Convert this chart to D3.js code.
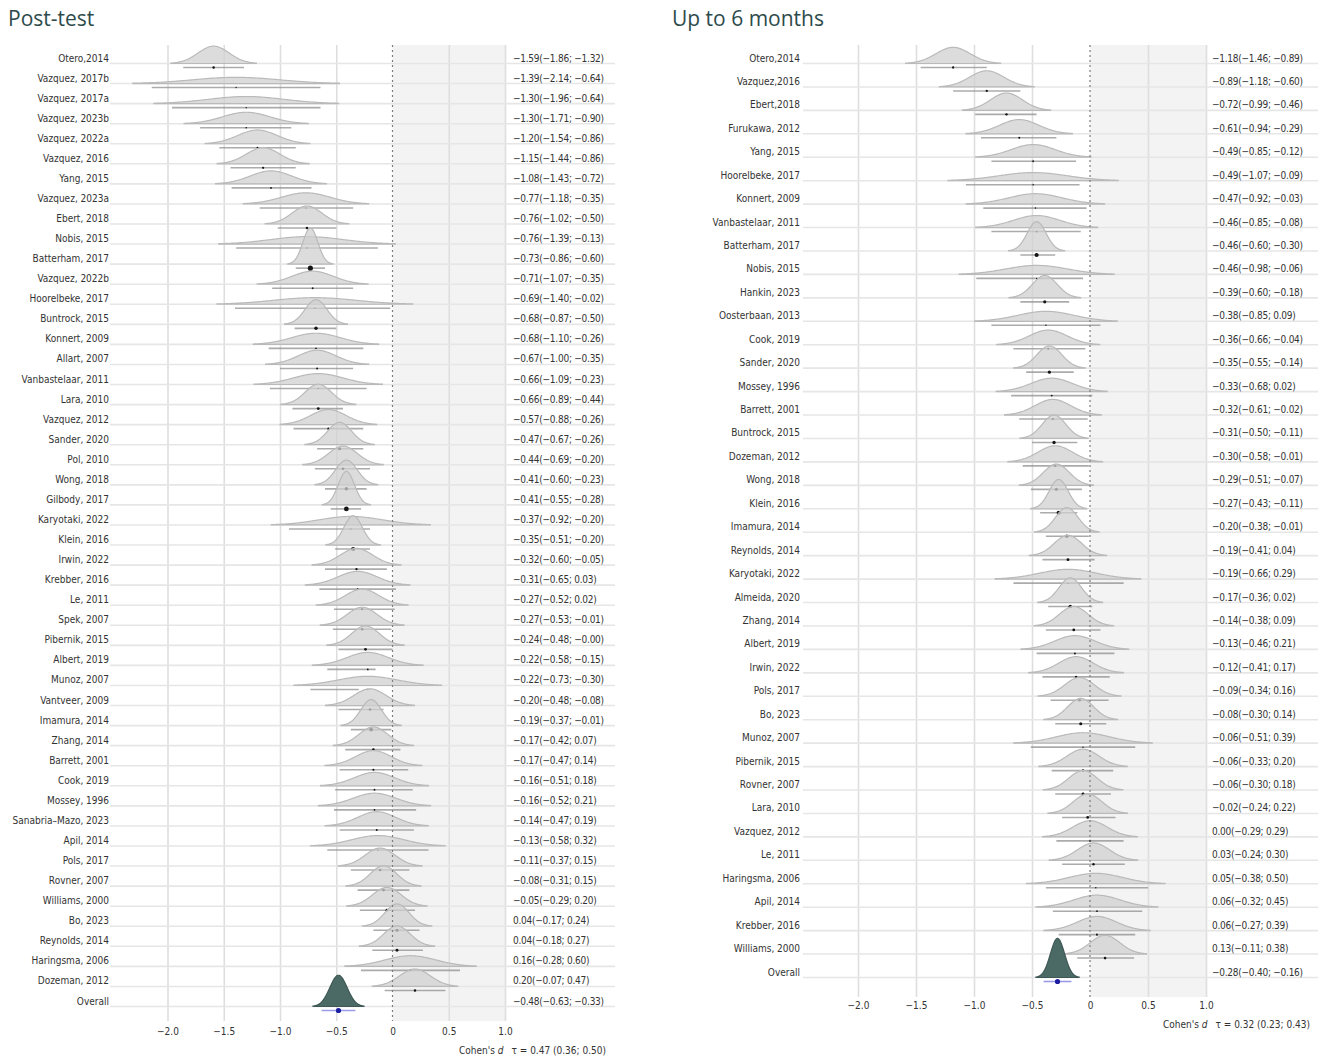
<!DOCTYPE html>
<html>
<head>
<meta charset="utf-8">
<script src="https://cdn.jsdelivr.net/npm/d3@7"></script>
<style>
  body { margin: 0; background: #fff; }
  svg text { font-family: "Liberation Sans Narrow", "DejaVu Sans Condensed", "Roboto Condensed", sans-serif; font-stretch: condensed; fill: #333; }
  svg text.title { font-family: "Open Sans", sans-serif; font-stretch: normal; fill: #2d4b4b; }
</style>
</head>
<body>
<svg id="chart" width="1321" height="1059"></svg>
<script>
// ---- Post-test effect sizes (Cohen's d with 95% CI) ----
const postStudies = [
  "Otero,2014", "Vazquez, 2017b", "Vazquez, 2017a", "Vazquez, 2023b", "Vazquez, 2022a",
  "Vazquez, 2016", "Yang, 2015", "Vazquez, 2023a", "Ebert, 2018", "Nobis, 2015",
  "Batterham, 2017", "Vazquez, 2022b", "Hoorelbeke, 2017", "Buntrock, 2015", "Konnert, 2009",
  "Allart, 2007", "Vanbastelaar, 2011", "Lara, 2010", "Vazquez, 2012", "Sander, 2020",
  "Pol, 2010", "Wong, 2018", "Gilbody, 2017", "Karyotaki, 2022", "Klein, 2016",
  "Irwin, 2022", "Krebber, 2016", "Le, 2011", "Spek, 2007", "Pibernik, 2015",
  "Albert, 2019", "Munoz, 2007", "Vantveer, 2009", "Imamura, 2014", "Zhang, 2014",
  "Barrett, 2001", "Cook, 2019", "Mossey, 1996", "Sanabria–Mazo, 2023", "Apil, 2014",
  "Pols, 2017", "Rovner, 2007", "Williams, 2000", "Bo, 2023", "Reynolds, 2014",
  "Haringsma, 2006", "Dozeman, 2012"
];
const postEst = [
  -1.59, -1.39, -1.30, -1.30, -1.20, -1.15, -1.08, -0.77, -0.76, -0.76,
  -0.73, -0.71, -0.69, -0.68, -0.68, -0.67, -0.66, -0.66, -0.57, -0.47,
  -0.44, -0.41, -0.41, -0.37, -0.35, -0.32, -0.31, -0.27, -0.27, -0.24,
  -0.22, -0.22, -0.20, -0.19, -0.17, -0.17, -0.16, -0.16, -0.14, -0.13,
  -0.11, -0.08, -0.05, 0.04, 0.04, 0.16, 0.20
];
const postLower = [
  -1.86, -2.14, -1.96, -1.71, -1.54, -1.44, -1.43, -1.18, -1.02, -1.39,
  -0.86, -1.07, -1.40, -0.87, -1.10, -1.00, -1.09, -0.89, -0.88, -0.67,
  -0.69, -0.60, -0.55, -0.92, -0.51, -0.60, -0.65, -0.52, -0.53, -0.48,
  -0.58, -0.73, -0.48, -0.37, -0.42, -0.47, -0.51, -0.52, -0.47, -0.58,
  -0.37, -0.31, -0.29, -0.17, -0.18, -0.28, -0.07
];
const postUpper = [
  -1.32, -0.64, -0.64, -0.90, -0.86, -0.86, -0.72, -0.35, -0.50, -0.13,
  -0.60, -0.35, -0.02, -0.50, -0.26, -0.35, -0.23, -0.44, -0.26, -0.26,
  -0.20, -0.23, -0.28, -0.20, -0.20, -0.05, 0.03, 0.02, -0.01, -0.00,
  -0.15, -0.30, -0.08, -0.01, 0.07, 0.14, 0.18, 0.21, 0.19, 0.32,
  0.15, 0.15, 0.20, 0.24, 0.27, 0.60, 0.47
];
const postOverall = [-0.48, -0.63, -0.33];
const postTau = "τ = 0.47 (0.36; 0.50)";

// ---- Follow-up (up to 6 months) effect sizes ----
const fuStudies = [
  "Otero,2014", "Vazquez,2016", "Ebert,2018", "Furukawa, 2012", "Yang, 2015",
  "Hoorelbeke, 2017", "Konnert, 2009", "Vanbastelaar, 2011", "Batterham, 2017", "Nobis, 2015",
  "Hankin, 2023", "Oosterbaan, 2013", "Cook, 2019", "Sander, 2020", "Mossey, 1996",
  "Barrett, 2001", "Buntrock, 2015", "Dozeman, 2012", "Wong, 2018", "Klein, 2016",
  "Imamura, 2014", "Reynolds, 2014", "Karyotaki, 2022", "Almeida, 2020", "Zhang, 2014",
  "Albert, 2019", "Irwin, 2022", "Pols, 2017", "Bo, 2023", "Munoz, 2007",
  "Pibernik, 2015", "Rovner, 2007", "Lara, 2010", "Vazquez, 2012", "Le, 2011",
  "Haringsma, 2006", "Apil, 2014", "Krebber, 2016", "Williams, 2000"
];
const fuEst = [
  -1.18, -0.89, -0.72, -0.61, -0.49, -0.49, -0.47, -0.46, -0.46, -0.46,
  -0.39, -0.38, -0.36, -0.35, -0.33, -0.32, -0.31, -0.30, -0.29, -0.27,
  -0.20, -0.19, -0.19, -0.17, -0.14, -0.13, -0.12, -0.09, -0.08, -0.06,
  -0.06, -0.06, -0.02, 0.00, 0.03, 0.05, 0.06, 0.06, 0.13
];
const fuLower = [
  -1.46, -1.18, -0.99, -0.94, -0.85, -1.07, -0.92, -0.85, -0.60, -0.98,
  -0.60, -0.85, -0.66, -0.55, -0.68, -0.61, -0.50, -0.58, -0.51, -0.43,
  -0.38, -0.41, -0.66, -0.36, -0.38, -0.46, -0.41, -0.34, -0.30, -0.51,
  -0.33, -0.30, -0.24, -0.29, -0.24, -0.38, -0.32, -0.27, -0.11
];
const fuUpper = [
  -0.89, -0.60, -0.46, -0.29, -0.12, -0.09, -0.03, -0.08, -0.30, -0.06,
  -0.18, 0.09, -0.04, -0.14, 0.02, -0.02, -0.11, -0.01, -0.07, -0.11,
  -0.01, 0.04, 0.29, 0.02, 0.09, 0.21, 0.17, 0.16, 0.14, 0.39,
  0.20, 0.18, 0.22, 0.29, 0.30, 0.50, 0.45, 0.39, 0.38
];
const fuOverall = [-0.28, -0.40, -0.16];
const fuTau = "τ = 0.32 (0.23; 0.43)";

const axisTicks = [-2.0, -1.5, -1.0, -0.5, 0, 0.5, 1.0];

// ---- helpers ----
const svg = d3.select("#chart");
const fmtNum = v => ((v < 0 || Object.is(v, -0)) ? "−" : "") + Math.abs(v).toFixed(2);
const fmtTick = v => v === 0 ? "0" : d3.format(".1f")(v);
const DENS_SCALE = 6;   // px per unit of probability density

function densityCurve(m, s) {
  const peak = 1 / (s * Math.sqrt(2 * Math.PI));
  const pts = [];
  for (let z = -4; z <= 4.0001; z += 0.04) {
    const h = DENS_SCALE * peak * Math.exp(-z * z / 2);
    if (h >= 0.35) pts.push([m + z * s, h]);
  }
  return pts;
}

function drawPanel(p) {
  const g = svg.append("g");
  const x = d3.scaleLinear().domain([-2, 1]).range([p.xMin, p.xMax]);
  const names = p.studies.concat(["Overall"]);
  const est = p.est.concat([p.overall[0]]);
  const lo = p.lower.concat([p.overall[1]]);
  const hi = p.upper.concat([p.overall[2]]);
  const n = names.length;
  const y = d3.scaleLinear().domain([0, n - 1]).range([p.yFirst, p.yLast]);

  // title
  g.append("text").attr("class", "title")
    .attr("x", p.titleX).attr("y", 26).attr("font-size", 21)
    .text(p.title);

  // favourable-to-control zone
  g.append("rect")
    .attr("x", x(0)).attr("y", p.gridTop)
    .attr("width", x(1) - x(0)).attr("height", p.gridBottom - p.gridTop)
    .attr("fill", "#f3f3f3");

  // vertical grid
  const grid = g.append("g")
    .attr("transform", `translate(0,${p.gridBottom})`)
    .call(d3.axisBottom(x).tickValues(axisTicks.filter(t => t !== 0))
      .tickSize(-(p.gridBottom - p.gridTop)).tickFormat(""));
  grid.select(".domain").remove();
  grid.selectAll("line").attr("stroke", "#dedede").attr("stroke-width", 1.6);

  // row baselines
  g.append("g").selectAll("line").data(d3.range(n)).join("line")
    .attr("x1", p.lineStart).attr("x2", p.lineEnd)
    .attr("y1", i => y(i) + 5.5).attr("y2", i => y(i) + 5.5)
    .attr("stroke", "#e6e6e6").attr("stroke-width", 1.6);

  // study labels and effect-size text
  g.append("g").selectAll("text").data(names).join("text")
    .attr("x", p.labelX).attr("y", (d, i) => y(i)).attr("dy", "0.35em")
    .attr("text-anchor", "end").attr("font-size", 10)
    .text(d => d);
  g.append("g").selectAll("text").data(d3.range(n)).join("text")
    .attr("x", p.valueX).attr("y", i => y(i)).attr("dy", "0.35em")
    .attr("font-size", 10).attr("letter-spacing", -0.25)
    .text(i => `${fmtNum(est[i])}(${fmtNum(lo[i])}; ${fmtNum(hi[i])})`);

  // densities with interval and point, one row at a time
  const area = d3.area().curve(d3.curveBasis)
    .x(d => x(d[0]));
  const rows = g.append("g");
  for (let i = 0; i < n; i++) {
    const isOverall = i === n - 1;
    const base = y(i) + 5.5;
    const s = Math.max(est[i] - lo[i], hi[i] - est[i]) / 1.96;
    const pts = densityCurve(est[i], s);
    const r = rows.append("g");
    r.append("path")
      .datum(pts)
      .attr("d", area.y0(base).y1(d => base - d[1]))
      .attr("fill", isOverall ? "#4b6a66" : "#d0d0d0")
      .attr("fill-opacity", isOverall ? 1 : 0.74)
      .attr("stroke", isOverall ? "#3e5855" : "#bababa")
      .attr("stroke-width", 1.2);
    r.append("line")
      .attr("x1", x(lo[i])).attr("x2", x(hi[i]))
      .attr("y1", base + 4).attr("y2", base + 4)
      .attr("stroke", isOverall ? "#9b9bea" : "#8f8f8f")
      .attr("stroke-opacity", isOverall ? 1 : 0.75)
      .attr("stroke-width", 1.6);
    r.append("circle")
      .attr("cx", x(est[i])).attr("cy", base + 4)
      .attr("r", isOverall ? 2.6 : Math.max(0.7, Math.min(2.8, 0.17 / s)))
      .attr("fill", isOverall ? "#1c1ca0" : "#151515");
  }

  // line of no effect
  g.append("line")
    .attr("x1", x(0)).attr("x2", x(0))
    .attr("y1", p.gridTop).attr("y2", p.gridBottom)
    .attr("stroke", "#7d7d7d").attr("stroke-width", 1.2)
    .attr("stroke-dasharray", "2,3");

  // x axis labels
  const ax = g.append("g")
    .attr("transform", `translate(0,${p.tickY})`)
    .call(d3.axisBottom(x).tickValues(axisTicks).tickSize(0).tickPadding(0).tickFormat(fmtTick));
  ax.select(".domain").remove();
  ax.selectAll("text").attr("font-size", 10).attr("fill", "#333")
    .attr("dy", "0.35em")
    .style("font-family", null);

  // caption
  const cap = g.append("text")
    .attr("x", p.captionX).attr("y", p.captionY).attr("dy", "0.35em")
    .attr("text-anchor", "end").attr("font-size", 10);
  cap.append("tspan").text("Cohen's ");
  cap.append("tspan").attr("font-style", "italic").text("d");
  cap.append("tspan").attr("dx", 8).text(p.tau);
}

drawPanel({
  title: "Post-test", titleX: 8,
  studies: postStudies, est: postEst, lower: postLower, upper: postUpper,
  overall: postOverall, tau: postTau,
  xMin: 167.5, xMax: 505, yFirst: 58, yLast: 1001,
  gridTop: 45, gridBottom: 1021,
  lineStart: 110, lineEnd: 615, labelX: 109, valueX: 513,
  tickY: 1031, captionX: 606, captionY: 1050
});

drawPanel({
  title: "Up to 6 months", titleX: 672,
  studies: fuStudies, est: fuEst, lower: fuLower, upper: fuUpper,
  overall: fuOverall, tau: fuTau,
  xMin: 858, xMax: 1206, yFirst: 58, yLast: 972,
  gridTop: 45, gridBottom: 997,
  lineStart: 803, lineEnd: 1318, labelX: 800, valueX: 1212,
  tickY: 1005, captionX: 1310, captionY: 1024
});
</script>
</body>
</html>
